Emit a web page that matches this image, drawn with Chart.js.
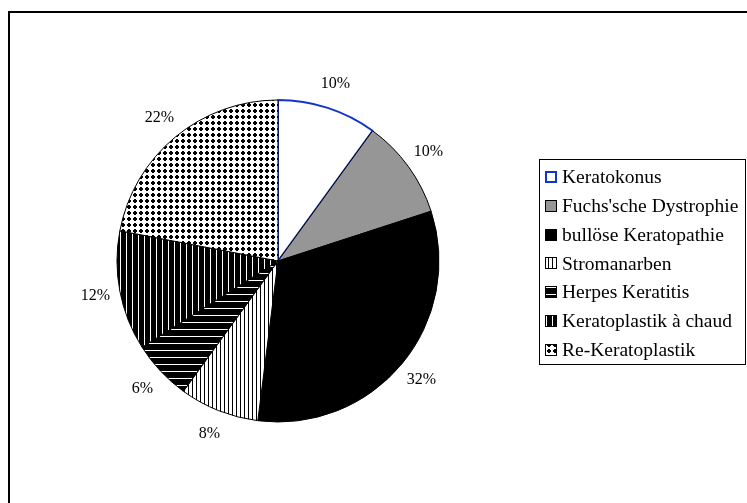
<!DOCTYPE html>
<html>
<head>
<meta charset="utf-8">
<script src="https://cdn.jsdelivr.net/npm/chart.js@4.4.0/dist/chart.umd.min.js"></script>
<style>
  body { margin: 0; background: #ffffff; }
  canvas { display: block; }
</style>
</head>
<body>
<canvas id="myChart" width="747" height="503"></canvas>
<script>
const labels = ["Keratokonus", "Fuchs'sche Dystrophie", "bullöse Keratopathie", "Stromanarben", "Herpes Keratitis", "Keratoplastik à chaud", "Re-Keratoplastik"];
const shares = [10, 10, 32, 8, 6, 12, 22];

// fill style per slice
const fills = ['plain', 'gray', 'black', 'vlinesThin', 'hlines', 'vlinesWide', 'dots'];
const edgeColors = ['#1434c8', '#000000', '#000000', '#000000', '#000000', '#000000', '#000000'];
const edgeWidths = [2, 1, 1, 1, 1, 1, 1];

var ctx = document.getElementById('myChart').getContext('2d');
const serif = '"Liberation Serif", "Times New Roman", serif';

function makeFill(kind) {
  if (kind == 'plain') return '#ffffff';
  if (kind == 'gray') return '#969696';
  if (kind == 'black') return '#000000';
  var tile = document.createElement('canvas');
  var g = tile.getContext('2d');
  if (kind == 'vlinesThin') {
    tile.width = 4; tile.height = 4;
    g.fillStyle = '#fff'; g.fillRect(0, 0, 4, 4);
    g.fillStyle = '#000'; g.fillRect(0, 0, 1, 4);
  } else if (kind == 'vlinesWide') {
    tile.width = 6; tile.height = 6;
    g.fillStyle = '#000'; g.fillRect(0, 0, 6, 6);
    g.fillStyle = '#fff'; g.fillRect(0, 0, 1, 6);
  } else if (kind == 'hlines') {
    tile.width = 7; tile.height = 7;
    g.fillStyle = '#000'; g.fillRect(0, 0, 7, 7);
    g.fillStyle = '#fff'; g.fillRect(0, 0, 7, 1);
  } else if (kind == 'dots') {
    tile.width = 6; tile.height = 6;
    g.fillStyle = '#fff'; g.fillRect(0, 0, 6, 6);
    g.fillStyle = '#000';
    g.fillRect(1, 2, 4, 2);
    g.fillRect(2, 1, 2, 4);
  }
  return ctx.createPattern(tile, 'repeat');
}

const fillStyles = fills.map(makeFill);

// percent labels just outside each slice
const sliceLabels = {
  id: 'sliceLabels',
  afterDatasetsDraw(chart) {
    var c = chart.ctx;
    var meta = chart.getDatasetMeta(0);
    c.save();
    c.font = '16px ' + serif;
    c.fillStyle = '#000';
    c.textAlign = 'center';
    c.textBaseline = 'middle';
    meta.data.forEach(function (arc, i) {
      var mid = (arc.startAngle + arc.endAngle) / 2;
      var r = arc.outerRadius + 25;
      c.fillText(shares[i] + '%', arc.x + Math.cos(mid) * r, arc.y + Math.sin(mid) * r);
    });
    c.restore();
  }
};

// outer frame and boxed legend
const frameAndLegend = {
  id: 'frameAndLegend',
  afterDraw(chart) {
    var c = chart.ctx;
    c.save();
    c.fillStyle = '#000';
    c.fillRect(8, 11, 739, 2);
    c.fillRect(8, 11, 2, 492);

    c.strokeStyle = '#000';
    c.lineWidth = 1;
    c.strokeRect(539.5, 159.5, 206, 205);

    c.font = '19.5px ' + serif;
    c.textBaseline = 'middle';
    c.textAlign = 'left';
    labels.forEach(function (name, i) {
      var y = 177 + i * 28.8;
      var sx = 545, sy = Math.round(y) - 6;
      c.fillStyle = fillStyles[i];
      c.fillRect(sx, sy, 12, 12);
      if (i == 0) {
        c.strokeStyle = edgeColors[0];
        c.lineWidth = 2;
        c.strokeRect(sx + 1, sy + 1, 10, 10);
      } else {
        c.strokeStyle = '#000';
        c.lineWidth = 1;
        c.strokeRect(sx + 0.5, sy + 0.5, 11, 11);
      }
      c.fillStyle = '#000';
      c.fillText(name, 562, y + 1);
    });
    c.restore();
  }
};

var chart = new Chart(ctx, {
  type: 'pie',
  data: {
    labels: labels,
    datasets: [{
      data: shares,
      backgroundColor: fillStyles,
      borderColor: edgeColors,
      borderWidth: edgeWidths
    }]
  },
  options: {
    responsive: false,
    animation: false,
    events: [],
    layout: {
      padding: { left: 116, right: 307, top: 99, bottom: 80 }
    },
    plugins: {
      legend: { display: false },
      tooltip: { enabled: false }
    }
  },
  plugins: [sliceLabels, frameAndLegend]
});
</script>
</body>
</html>
